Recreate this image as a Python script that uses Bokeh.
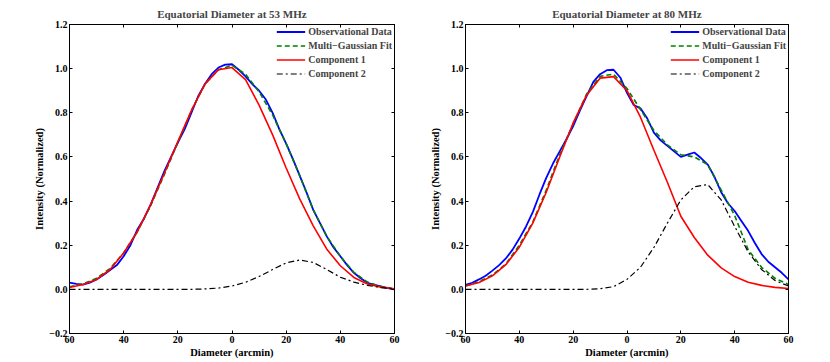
from bokeh.plotting import figure
from bokeh.layouts import row
from bokeh.models import FixedTicker, LinearAxis, Range1d, Legend, LegendItem, CustomLabelingPolicy
from bokeh.embed import file_html
from bokeh.resources import INLINE

FONT = "Liberation Serif"

# ---------------- data ----------------
x_fine = [-60, -57.5, -55, -52.5, -50, -47.5, -45, -42.5, -40, -37.5, -35, -32.5, -30,
          -27.5, -25, -22.5, -20, -17.5, -15, -12.5, -10, -7.5, -5, -2.5, 0,
          2.5, 5, 7.5, 10, 12.5, 15, 17.5, 20, 22.5, 25, 27.5, 30, 32.5, 35,
          37.5, 40, 42.5, 45, 47.5, 50, 52.5, 55, 57.5, 60]
x_coarse = [-60, -55, -50, -45, -40, -35, -30, -25, -20, -15, -10, -5, 0,
            5, 10, 15, 20, 25, 30, 35, 40, 45, 50, 55, 60]

# 53 MHz
obs_53 = [0.030, 0.025, 0.021, 0.030, 0.045, 0.065, 0.088, 0.110, 0.150, 0.200, 0.270, 0.320, 0.385,
          0.460, 0.535, 0.600, 0.665, 0.725, 0.800, 0.875, 0.930, 0.975, 1.005, 1.018, 1.020,
          0.995, 0.965, 0.930, 0.900, 0.860, 0.800, 0.725, 0.660, 0.590, 0.515, 0.440, 0.360,
          0.300, 0.240, 0.190, 0.150, 0.110, 0.075, 0.050, 0.030, 0.020, 0.013, 0.006, 0.000]
fit_53 = [0.012, 0.025, 0.050, 0.095, 0.165, 0.260, 0.380, 0.520, 0.665, 0.810, 0.930, 0.995, 1.015,
          0.975, 0.895, 0.790, 0.660, 0.515, 0.360, 0.240, 0.150, 0.077, 0.033, 0.013, 0.002]
comp1_53 = [0.008, 0.022, 0.045, 0.090, 0.165, 0.260, 0.385, 0.525, 0.670, 0.810, 0.930, 0.995, 1.005,
            0.950, 0.835, 0.700, 0.550, 0.410, 0.288, 0.182, 0.107, 0.054, 0.024, 0.010, 0.003]
comp2_53 = [0.0, 0.0, 0.0, 0.0, 0.0, 0.0, 0.0, 0.0, 0.0, 0.0, 0.002, 0.006, 0.015,
            0.032, 0.058, 0.090, 0.120, 0.133, 0.122, 0.090, 0.055, 0.033, 0.018, 0.008, 0.002]

# 80 MHz
obs_80 = [0.020, 0.030, 0.045, 0.062, 0.085, 0.110, 0.140, 0.180, 0.230, 0.285, 0.350, 0.430, 0.505,
          0.570, 0.625, 0.680, 0.740, 0.810, 0.875, 0.940, 0.975, 0.993, 0.995, 0.960, 0.890,
          0.835, 0.820, 0.775, 0.710, 0.675, 0.650, 0.625, 0.600, 0.610, 0.620, 0.595, 0.565,
          0.510, 0.440, 0.390, 0.355, 0.310, 0.265, 0.210, 0.160, 0.125, 0.100, 0.075, 0.045]
fit_80 = [0.015, 0.035, 0.065, 0.115, 0.200, 0.305, 0.450, 0.610, 0.750, 0.885, 0.965, 0.975, 0.910,
          0.815, 0.720, 0.655, 0.610, 0.600, 0.565, 0.450, 0.335, 0.180, 0.100, 0.050, 0.022]
comp1_80 = [0.015, 0.031, 0.061, 0.112, 0.191, 0.300, 0.440, 0.600, 0.754, 0.880, 0.957, 0.964, 0.900,
            0.780, 0.630, 0.485, 0.331, 0.235, 0.155, 0.097, 0.058, 0.032, 0.018, 0.009, 0.004]
comp2_80 = [0.0, 0.0, 0.0, 0.0, 0.0, 0.0, 0.0, 0.0, 0.0, 0.0, 0.003, 0.012, 0.045,
            0.100, 0.190, 0.300, 0.405, 0.465, 0.475, 0.405, 0.285, 0.170, 0.090, 0.040, 0.015]

x_tick_values = [-60, -40, -20, 0, 20, 40, 60]
x_tick_labels = ["60", "40", "20", "0", "20", "40", "60"]
y_tick_values = [-0.2, 0.0, 0.2, 0.4, 0.6, 0.8, 1.0, 1.2]
y_tick_labels = ["\u22120.2", "0.0", "0.2", "0.4", "0.6", "0.8", "1.0", "1.2"]

legend_labels = ["Observational Data", "Multi\u2212Gaussian Fit", "Component 1", "Component 2"]
titles = ["Equatorial Diameter at 53 MHz", "Equatorial Diameter at 80 MHz"]

HIDE_ALL = "for (const i of indices) { indices.unset(i) }\nreturn indices"


def style_axis(ax, show_labels=True):
    ax.axis_line_color = "black"
    ax.axis_line_width = 1
    ax.major_tick_line_color = "black"
    ax.major_tick_in = 3
    ax.major_tick_out = 0
    ax.minor_tick_line_color = None
    ax.major_label_text_font = FONT
    ax.major_label_text_font_style = "bold"
    ax.major_label_text_color = "black"
    if show_labels:
        ax.major_label_text_font_size = "10px"
        ax.major_label_standoff = 2
    else:
        ax.major_label_text_font_size = "1px"
        ax.major_label_standoff = 0
        ax.major_label_policy = CustomLabelingPolicy(code=HIDE_ALL)
    ax.axis_label_text_font = FONT
    ax.axis_label_text_font_style = "bold"
    ax.axis_label_text_font_size = "10.5px"
    ax.axis_label_text_color = "black"
    ax.axis_label_standoff = 1


def make_panel(title, obs, fit, c1, c2, width, border_left, border_right):
    p = figure(width=width, height=361,
               x_range=Range1d(-60, 60), y_range=Range1d(-0.2, 1.2),
               output_backend="svg", toolbar_location=None,
               min_border_left=border_left, min_border_right=border_right,
               min_border_top=24, min_border_bottom=28)
    p.xgrid.visible = False
    p.ygrid.visible = False
    p.outline_line_color = "black"
    p.outline_line_width = 1
    p.background_fill_color = "white"
    p.border_fill_color = "white"

    p.title.text = title
    p.title.align = "center"
    p.title.text_font = FONT
    p.title.text_font_style = "bold"
    p.title.text_font_size = "11px"
    p.title.standoff = 2
    p.title.offset = 0

    p.xaxis.ticker = FixedTicker(ticks=x_tick_values)
    p.yaxis.ticker = FixedTicker(ticks=y_tick_values)
    p.xaxis.major_label_overrides = {v: l for v, l in zip(x_tick_values, x_tick_labels)}
    p.yaxis.major_label_overrides = {v: l for v, l in zip(y_tick_values, y_tick_labels)}
    p.xaxis.axis_label = "Diameter (arcmin)"
    p.yaxis.axis_label = "Intensity (Normalized)"
    for ax in p.xaxis:
        style_axis(ax)
    for ax in p.yaxis:
        style_axis(ax)

    top = LinearAxis(ticker=FixedTicker(ticks=x_tick_values))
    style_axis(top, show_labels=False)
    p.add_layout(top, "above")
    right = LinearAxis(ticker=FixedTicker(ticks=y_tick_values))
    style_axis(right, show_labels=False)
    p.add_layout(right, "right")

    r1 = p.line(x_fine, obs, line_color="#0000ff", line_width=1.8)
    r2 = p.line(x_coarse, fit, line_color="#008000", line_width=1.6, line_dash="5 3")
    r3 = p.line(x_coarse, c1, line_color="#ff0000", line_width=1.6)
    r4 = p.line(x_coarse, c2, line_color="black", line_width=1.2, line_dash="6 3 2 3")

    legend = Legend(items=[LegendItem(label=legend_labels[0], renderers=[r1]),
                           LegendItem(label=legend_labels[1], renderers=[r2]),
                           LegendItem(label=legend_labels[2], renderers=[r3]),
                           LegendItem(label=legend_labels[3], renderers=[r4])])
    legend.location = "top_right"
    legend.border_line_color = None
    legend.background_fill_alpha = 0
    legend.label_text_font = FONT
    legend.label_text_font_style = "bold"
    legend.label_text_font_size = "10px"
    legend.glyph_width = 29
    legend.glyph_height = 11
    legend.label_height = 11
    legend.label_standoff = 3
    legend.spacing = 3
    legend.padding = 6
    legend.margin = 2
    p.add_layout(legend)
    return p


p1 = make_panel(titles[0], obs_53, fit_53, comp1_53, comp2_53, 404, 69, 10)
p2 = make_panel(titles[1], obs_80, fit_80, comp1_80, comp2_80, 394, 61, 10)

layout = row(p1, p2)
open("out.html", "w").write(file_html(layout, INLINE))
